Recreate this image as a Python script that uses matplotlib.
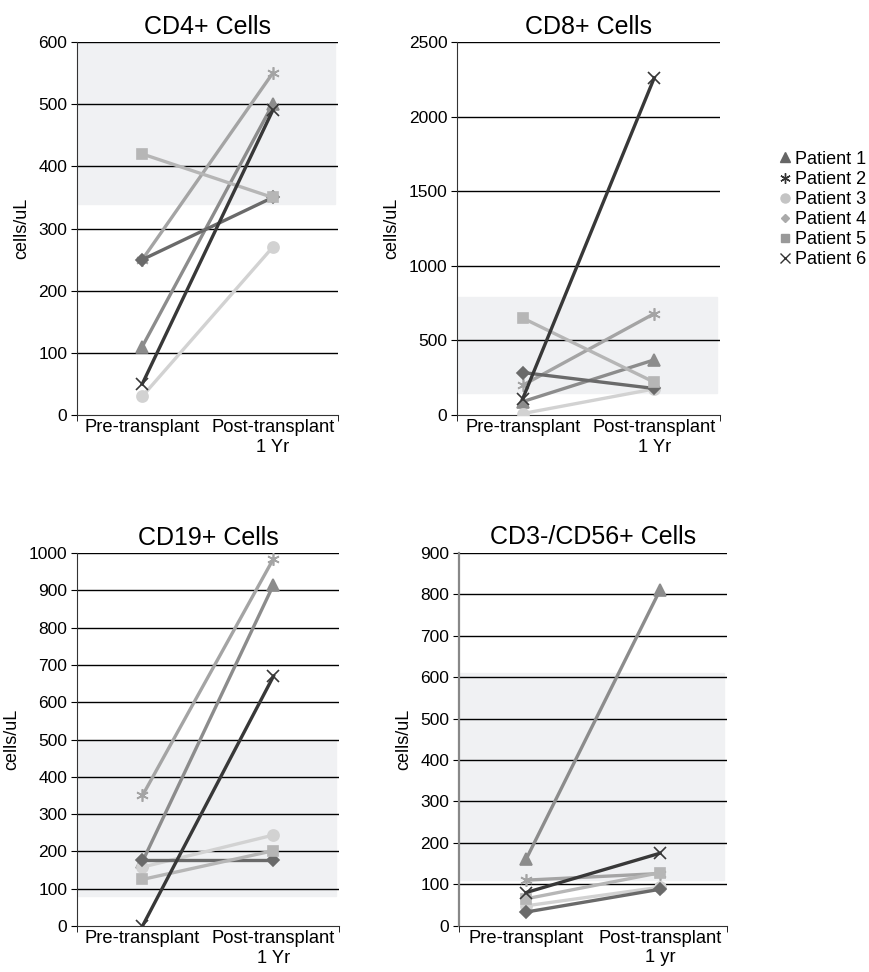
import numpy as np
import matplotlib
matplotlib.use("Agg")
import matplotlib.pyplot as plt
from matplotlib.lines import Line2D

plt.rcParams['font.family'] = ['Liberation Sans', 'DejaVu Sans']

patients = ["Patient 1", "Patient 2", "Patient 3", "Patient 4", "Patient 5", "Patient 6"]
stages = ["Pre-transplant", "Post-transplant\n1 Yr"]

# values: [pre, post] per patient
cd4 = [[110, 500], [250, 550], [30, 270], [250, 350], [420, 350], [50, 490]]
cd8 = [[90, 370], [200, 680], [10, 175], [285, 178], [650, 220], [110, 2260]]
cd19 = [[173, 915], [350, 985], [158, 244], [177, 177], [125, 202], [0, 670]]
cd56 = [[160, 810], [110, 126], [48, 93], [33, 88], [65, 128], [80, 175]]

titles = ["CD4+ Cells", "CD8+ Cells", "CD19+ Cells", "CD3-/CD56+ Cells"]
ymax = [600, 2500, 1000, 900]
ystep = [100, 500, 100, 100]
normal = [(340, 600), (150, 790), (80, 500), (110, 610)]
last_label = ["1 Yr", "1 Yr", "1 Yr", "1 yr"]

markers = ['^', (6, 2, 0), 'o', 'D', 's', 'x']
msizes = [8, 9, 8, 6, 7, 9]
line_cols = ['#8c8c8c', '#a4a4a4', '#d2d2d2', '#6a6a6a', '#b6b6b6', '#383838']
legend_cols = ['#666666', '#333333', '#c4c4c4', '#aaaaaa', '#999999', '#333333']

fig = plt.figure(figsize=(8.69, 9.72), dpi=100)
boxes = [
    [0.0886, 0.5730, 0.3003, 0.3837],
    [0.5259, 0.5730, 0.3026, 0.3837],
    [0.0886, 0.0473, 0.3015, 0.3837],
    [0.5282, 0.0476, 0.3084, 0.3837],
]

for k, data in enumerate([cd4, cd8, cd19, cd56]):
    ax = fig.add_axes(boxes[k])
    ax.axhspan(normal[k][0], normal[k][1], xmin=0, xmax=0.99, color='#f0f1f3', zorder=0)
    for t in np.arange(ystep[k], ymax[k] + 1, ystep[k]):
        ax.axhline(t, color='black', lw=1.0, zorder=1)
    for i, vals in enumerate(data):
        ax.plot([0.5, 1.5], vals, color=line_cols[i], lw=2.4, marker=markers[i],
                ms=msizes[i], mfc=line_cols[i], mec=line_cols[i], mew=1.2, zorder=3)
    ax.set_xlim(0, 2)
    ax.set_ylim(0, ymax[k])
    ax.set_yticks(np.arange(0, ymax[k] + 1, ystep[k]))
    ax.set_xticks([0.5, 1.5])
    ax.set_xticklabels(["Pre-transplant", "Post-transplant\n" + last_label[k]], fontsize=13.2)
    ax.set_xticks([0, 2], minor=True)
    ax.tick_params(axis='x', which='major', length=0, pad=3)
    ax.tick_params(axis='x', which='minor', length=4, direction='out')
    ax.tick_params(axis='y', length=4, direction='out', labelsize=12.5, pad=3)
    for s in ['top', 'right']:
        ax.spines[s].set_visible(False)
    ax.spines['left'].set_color('#333333')
    ax.spines['bottom'].set_color('#333333')
    if k == 3:
        ax.spines['left'].set_color('#888888')
        ax.spines['left'].set_linewidth(1.6)
    ax.set_ylabel("cells/uL", fontsize=13, labelpad=6)
    ax.set_title(titles[k], fontsize=18, pad=6)

handles = [Line2D([], [], ls='none', marker=markers[i], ms=msizes[i] - 1.5,
                  color=legend_cols[i], mfc=legend_cols[i], mec=legend_cols[i])
           for i in range(6)]
fig.legend(handles, patients, loc='upper left', bbox_to_anchor=(0.895, 0.845),
           frameon=False, fontsize=13, handlelength=0.75, handletextpad=0.2,
           labelspacing=0.175, borderpad=0, borderaxespad=0)

fig.savefig("out.png", dpi=100)
